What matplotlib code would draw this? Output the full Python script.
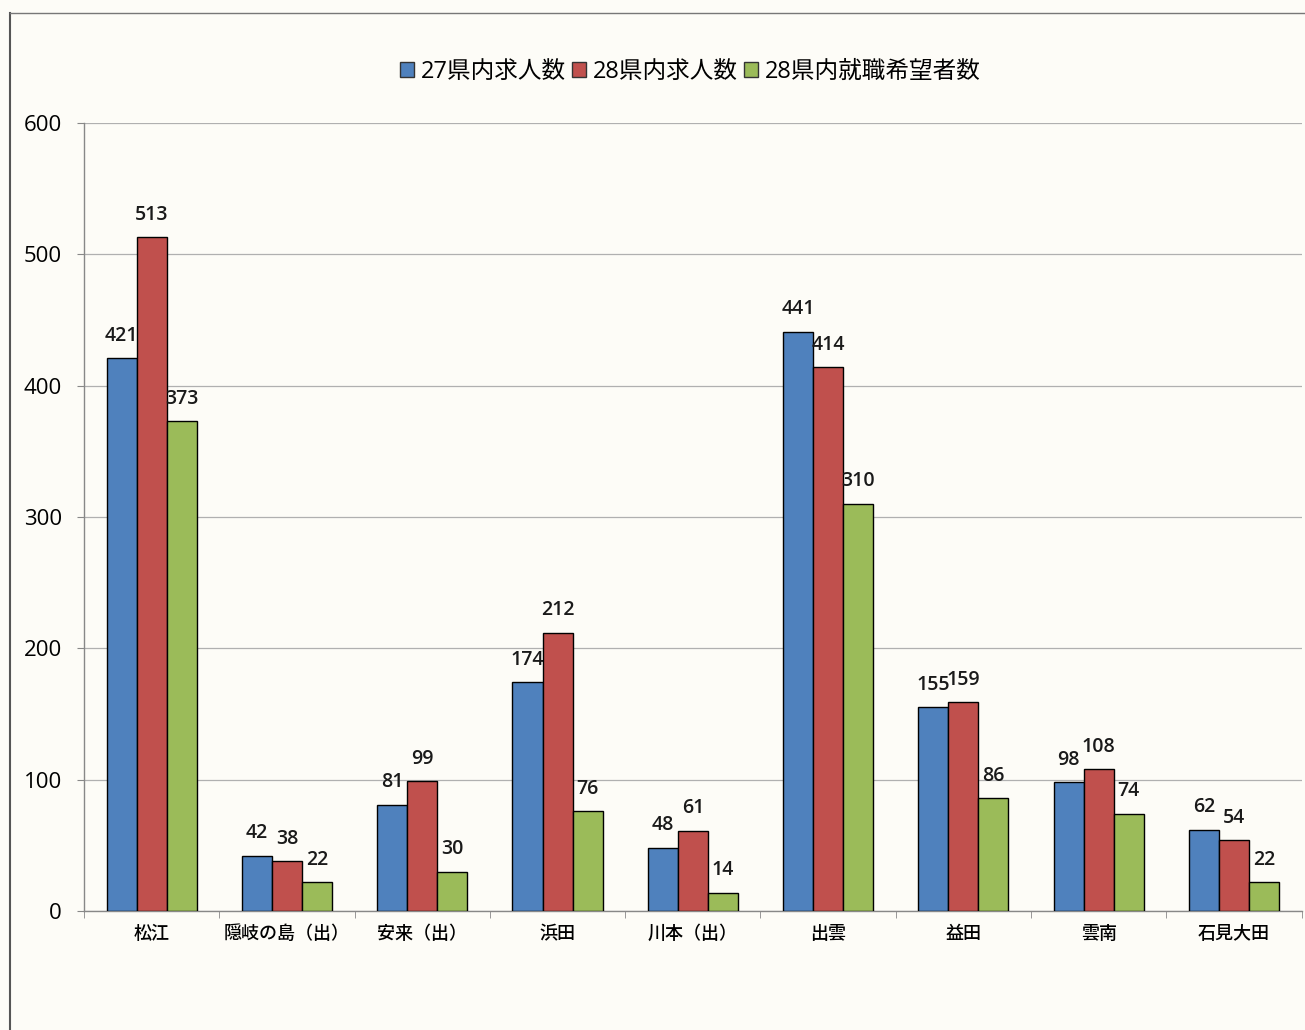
import numpy as np
import matplotlib.pyplot as plt
from matplotlib.lines import Line2D

plt.rcParams['font.family'] = ['Open Sans', 'Noto Sans CJK JP', 'DejaVu Sans']

# データ
areas = ['松江', '隠岐の島（出）', '安来（出）', '浜田', '川本（出）', '出雲', '益田', '雲南', '石見大田']
series_names = ['27県内求人数', '28県内求人数', '28県内就職希望者数']
jobs_27 = [421, 42, 81, 174, 48, 441, 155, 98, 62]
jobs_28 = [513, 38, 99, 212, 61, 414, 159, 108, 54]
seekers_28 = [373, 22, 30, 76, 14, 310, 86, 74, 22]
colors = ['#4F81BD', '#C0504D', '#9BBB59']

bg = '#fdfcf7'
fig = plt.figure(figsize=(13.05, 10.3), dpi=100, facecolor=bg)
ax = fig.add_axes([0.0644, 0.1155, 0.933, 0.7651], facecolor=bg)

x = np.arange(len(areas))
w = 0.222
for i, (vals, name, c) in enumerate(zip([jobs_27, jobs_28, seekers_28], series_names, colors)):
    bars = ax.bar(x + (i - 1) * w, vals, width=w, color=c, edgecolor='black',
                  linewidth=1.0, label=name, zorder=3)
    for bar, v in zip(bars, vals):
        ax.annotate(str(v), xy=(bar.get_x() + bar.get_width() / 2, bar.get_height()),
                    xytext=(0, 9), textcoords='offset points',
                    ha='center', va='bottom', fontsize=14, fontweight='semibold',
                    color='#1a1a1a')

ax.set_xlim(-0.5, len(areas) - 0.5)
ax.set_ylim(0, 600)
ax.set_yticks(range(0, 601, 100))
ax.grid(axis='y', color='#b0b0b0', linewidth=0.9, zorder=0)

ax.set_xticks(x)
ax.set_xticklabels(areas, fontsize=13, fontweight='medium')
ax.set_xticks(np.arange(-0.5, len(areas), 1), minor=True)
ax.tick_params(axis='x', which='major', length=0, pad=10)
ax.tick_params(axis='x', which='minor', length=5, color='#888888', direction='out')
ax.tick_params(axis='y', length=5, color='#888888', pad=11, labelsize=16)

for s in ['top', 'right']:
    ax.spines[s].set_visible(False)
for s in ['left', 'bottom']:
    ax.spines[s].set_color('#888888')
    ax.spines[s].set_linewidth(1.0)

leg = fig.legend(loc='center', bbox_to_anchor=(0.529, 0.930), ncol=3, frameon=False,
                 fontsize=17, handlelength=0.6, handleheight=0.6,
                 handletextpad=0.3, columnspacing=0.25)
for h in leg.legend_handles:
    h.set_edgecolor('#333333')

# 外枠
fig.add_artist(Line2D([0.0077, 0.0077], [0.0, 0.9874], color='#555555', linewidth=1.5))
fig.add_artist(Line2D([0.0077, 1.0], [0.9874, 0.9874], color='#777777', linewidth=1.0))

plt.savefig('out.png', dpi=100, facecolor=bg)
